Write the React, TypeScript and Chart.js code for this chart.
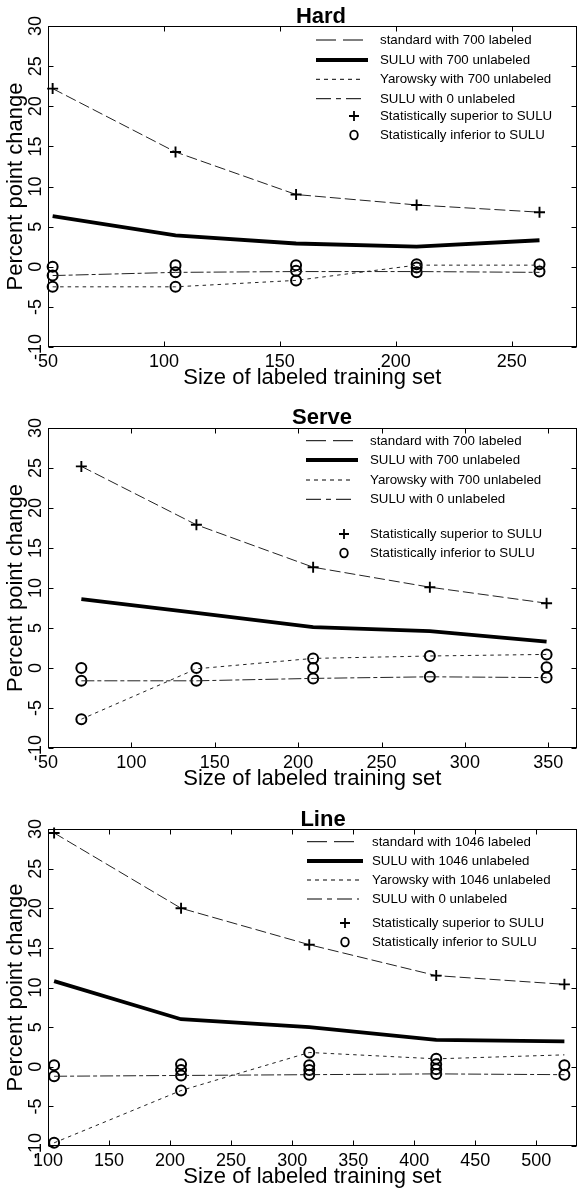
import React, { useEffect, useRef } from 'react';
import { Chart, registerables } from 'chart.js';

Chart.register(...registerables);

const FONT = "'Liberation Sans', Arial, Helvetica, sans-serif";

// ---------- shared axis settings ----------
const xTitle = 'Size of labeled training set';
const yTitle = 'Percent point change';
const yMin = -10;
const yMax = 30;
const yStep = 5;
const xStep = 50;

// ---------- Hard ----------
const hardSizes = [52, 105, 157, 209, 262];
const hardStandard = [22.2, 14.3, 9.0, 7.7, 6.8];
const hardSulu = [6.3, 3.9, 2.9, 2.5, 3.3];
const hardYarowsky = [-2.5, -2.5, -1.7, 0.2, 0.2];
const hardSulu0 = [-1.1, -0.7, -0.6, -0.6, -0.7];
const hardInferior = [
  [0, -1.1, -2.5],
  [0.2, -0.7, -2.5],
  [0.2, -0.5, -1.7],
  [0.3, -0.1, -0.7],
  [0.3, -0.6],
];
const hardLegend = [
  'standard with 700 labeled',
  'SULU with 700 unlabeled',
  'Yarowsky with 700 unlabeled',
  'SULU with 0 unlabeled',
  'Statistically superior to SULU',
  'Statistically inferior to SULU',
];

// ---------- Serve ----------
const serveSizes = [70, 139, 209, 279, 349];
const serveStandard = [25.2, 17.9, 12.6, 10.1, 8.1];
const serveSulu = [8.6, 6.9, 5.1, 4.6, 3.3];
const serveYarowsky = [-6.4, -0.1, 1.2, 1.5, 1.7];
const serveSulu0 = [-1.6, -1.6, -1.3, -1.1, -1.2];
const serveInferior = [
  [0, -1.6, -6.4],
  [0, -1.6],
  [1.2, 0, -1.3],
  [1.5, -1.1],
  [1.7, 0.1, -1.2],
];
const serveLegend = [
  'standard with 700 labeled',
  'SULU with 700 unlabeled',
  'Yarowsky with 700 unlabeled',
  'SULU with 0 unlabeled',
  'Statistically superior to SULU',
  'Statistically inferior to SULU',
];

// ---------- Line ----------
const lineSizes = [105, 209, 314, 418, 523];
const lineStandard = [29.5, 20.0, 15.4, 11.5, 10.4];
const lineSulu = [10.8, 6.0, 5.0, 3.4, 3.2];
const lineYarowsky = [-9.6, -3.0, 1.8, 1.0, 1.5];
const lineSulu0 = [-1.2, -1.1, -1.0, -0.9, -1.0];
const lineInferior = [
  [0.2, -1.2, -9.6],
  [0.3, -0.4, -1.1, -3.0],
  [1.8, 0.2, -0.4, -1.0],
  [1.0, 0.3, -0.3, -0.9],
  [0.2, -1.0],
];
const lineLegend = [
  'standard with 1046 labeled',
  'SULU with 1046 unlabeled',
  'Yarowsky with 1046 unlabeled',
  'SULU with 0 unlabeled',
  'Statistically superior to SULU',
  'Statistically inferior to SULU',
];

// ---------- panel layouts ----------
const panels = [
  {
    title: 'Hard', sizes: hardSizes, standard: hardStandard, sulu: hardSulu,
    yarowsky: hardYarowsky, sulu0: hardSulu0, inferior: hardInferior, legend: hardLegend,
    xMin: 50, xMax: 278,
    top: 0, height: 400, padTop: 26, padBottom: 0,
    titleX: 321, titleY: 16.5,
    legendRows: [40, 60, 79.3, 98.7, 116, 135],
    sampleX: [316, 364], markX: 354, textX: 380,
  },
  {
    title: 'Serve', sizes: serveSizes, standard: serveStandard, sulu: serveSulu,
    yarowsky: serveYarowsky, sulu0: serveSulu0, inferior: serveInferior, legend: serveLegend,
    xMin: 50, xMax: 367,
    top: 401, height: 400, padTop: 27, padBottom: 0,
    titleX: 322, titleY: 17,
    legendRows: [39.7, 59, 79, 98.3, 133, 152],
    sampleX: [306, 354], markX: 344, textX: 370,
  },
  {
    title: 'Line', sizes: lineSizes, standard: lineStandard, sulu: lineSulu,
    yarowsky: lineYarowsky, sulu0: lineSulu0, inferior: lineInferior, legend: lineLegend,
    xMin: 100, xMax: 533,
    top: 802, height: 400, padTop: 27, padBottom: 3,
    titleX: 323, titleY: 18,
    legendRows: [39.7, 59, 78, 97, 121, 140],
    sampleX: [307, 359], markX: 345, textX: 372,
  },
];

type Panel = typeof panels[number];

const DASH_STD = [11, 4];
const DASH_YAR = [3.5, 4];
const DASH_S0 = [13, 3, 4, 3];

function buildConfig(p: Panel): any {
  const pts = (ys: number[]) => p.sizes.map((x, i) => ({ x, y: ys[i] }));
  const inf = p.sizes.flatMap((x, i) => p.inferior[i].map((y) => ({ x, y })));

  const decor = {
    id: 'decor',
    afterDraw(chart: any) {
      const { ctx, chartArea: a, scales } = chart;
      const xs = scales.x;
      const ys = scales.y;
      ctx.save();
      ctx.setLineDash([]);
      ctx.strokeStyle = '#000';
      ctx.lineWidth = 1;
      const L = Math.round(a.left) + 0.5;
      const R = Math.round(a.right) - 0.5;
      const T = Math.round(a.top) + 0.5;
      const B = Math.round(a.bottom) - 0.5;
      ctx.strokeRect(L, T, R - L, B - T);
      ctx.beginPath();
      xs.ticks.forEach((t: any) => {
        const px = Math.round(xs.getPixelForValue(t.value)) + 0.5;
        ctx.moveTo(px, B); ctx.lineTo(px, B - 5);
        ctx.moveTo(px, T); ctx.lineTo(px, T + 5);
      });
      ys.ticks.forEach((t: any) => {
        const py = Math.round(ys.getPixelForValue(t.value)) + 0.5;
        ctx.moveTo(L, py); ctx.lineTo(L + 5, py);
        ctx.moveTo(R, py); ctx.lineTo(R - 5, py);
      });
      ctx.stroke();

      // rotated y tick labels from the library's own y scale
      ctx.fillStyle = '#000';
      ctx.font = `18px ${FONT}`;
      ctx.textAlign = 'center';
      ctx.textBaseline = 'middle';
      ys.ticks.forEach((t: any) => {
        const py = ys.getPixelForValue(t.value);
        ctx.save();
        ctx.translate(36, py);
        ctx.rotate(-Math.PI / 2);
        ctx.fillText(t.label, 0, 0);
        ctx.restore();
      });

      // title
      ctx.font = `bold 22px ${FONT}`;
      ctx.fillText(p.title, p.titleX, p.titleY);

      // legend
      const [s0, s1] = p.sampleX;
      ctx.textAlign = 'left';
      ctx.font = `13.3px ${FONT}`;
      p.legend.forEach((label, i) => {
        const yy = p.legendRows[i];
        ctx.save();
        ctx.strokeStyle = '#000';
        if (i === 0) {
          ctx.lineWidth = 1; ctx.setLineDash([20, 7]);
          ctx.beginPath(); ctx.moveTo(s0, yy); ctx.lineTo(s1 - 1, yy); ctx.stroke();
        } else if (i === 1) {
          ctx.lineWidth = 3.8; ctx.setLineDash([]);
          ctx.beginPath(); ctx.moveTo(s0, yy); ctx.lineTo(s1 + 4, yy); ctx.stroke();
        } else if (i === 2) {
          ctx.lineWidth = 1; ctx.setLineDash([4, 4]);
          ctx.beginPath(); ctx.moveTo(s0, yy); ctx.lineTo(s1, yy); ctx.stroke();
        } else if (i === 3) {
          ctx.lineWidth = 1; ctx.setLineDash([15, 5, 5, 5]);
          ctx.beginPath(); ctx.moveTo(s0, yy); ctx.lineTo(s1, yy); ctx.stroke();
        } else if (i === 4) {
          ctx.lineWidth = 1.8; ctx.setLineDash([]);
          ctx.beginPath();
          ctx.moveTo(p.markX - 5, yy); ctx.lineTo(p.markX + 5, yy);
          ctx.moveTo(p.markX, yy - 5); ctx.lineTo(p.markX, yy + 5);
          ctx.stroke();
        } else {
          ctx.lineWidth = 1.8; ctx.setLineDash([]);
          ctx.beginPath(); ctx.ellipse(p.markX, yy, 3.8, 4.3, 0, 0, Math.PI * 2); ctx.stroke();
        }
        ctx.restore();
        ctx.fillStyle = '#000';
        ctx.fillText(label, p.textX, yy + 0.5);
      });
      ctx.restore();
    },
  };

  return {
    type: 'line',
    data: {
      datasets: [
        {
          label: p.legend[0], data: pts(p.standard), borderColor: '#222', borderWidth: 1,
          borderDash: DASH_STD, pointStyle: 'cross', pointRadius: 5.5, pointBorderWidth: 1.9,
          pointBorderColor: '#000', pointBackgroundColor: '#000', clip: false, tension: 0,
        },
        {
          label: p.legend[1], data: pts(p.sulu), borderColor: '#000', borderWidth: 3.8,
          pointRadius: 0, clip: false, tension: 0,
        },
        {
          label: p.legend[2], data: pts(p.yarowsky), borderColor: '#222', borderWidth: 1,
          borderDash: DASH_YAR, pointRadius: 0, clip: false, tension: 0,
        },
        {
          label: p.legend[3], data: pts(p.sulu0), borderColor: '#222', borderWidth: 1,
          borderDash: DASH_S0, pointRadius: 0, clip: false, tension: 0,
        },
        {
          label: p.legend[5], data: inf, showLine: false, pointStyle: 'circle', pointRadius: 5,
          pointBorderWidth: 2, pointBorderColor: '#000', pointBackgroundColor: 'rgba(0,0,0,0)',
          borderColor: '#000', clip: false,
        },
      ],
    },
    options: {
      animation: false,
      responsive: false,
      events: [],
      layout: { padding: { top: p.padTop, right: 4, bottom: p.padBottom, left: 0 } },
      plugins: { legend: { display: false }, tooltip: { enabled: false }, title: { display: false } },
      scales: {
        x: {
          type: 'linear', min: p.xMin, max: p.xMax,
          ticks: {
            stepSize: xStep, includeBounds: false, autoSkip: false, maxRotation: 0, minRotation: 0,
            font: { family: FONT, size: 18 }, color: '#000', padding: 4,
          },
          grid: { display: false, drawTicks: false },
          border: { display: false },
          title: {
            display: true, text: xTitle, color: '#000',
            font: { family: FONT, size: 22 }, padding: { top: 0, bottom: 9 },
          },
          afterFit: (s: any) => { s.height = 53; },
        },
        y: {
          type: 'linear', min: yMin, max: yMax,
          ticks: { stepSize: yStep, display: false },
          grid: { display: false, drawTicks: false },
          border: { display: false },
          title: {
            display: true, text: yTitle, color: '#000',
            font: { family: FONT, size: 22 }, padding: { top: 3, bottom: 0 },
          },
          afterFit: (s: any) => { s.width = 48; },
        },
      },
    },
    plugins: [decor],
  };
}

function ChartPanel({ panel }: { panel: Panel }) {
  const ref = useRef<HTMLCanvasElement>(null);
  useEffect(() => {
    const chart = new Chart(ref.current as HTMLCanvasElement, buildConfig(panel));
    return () => chart.destroy();
  }, [panel]);
  return (
    <canvas
      ref={ref}
      width={584}
      height={panel.height}
      style={{ position: 'absolute', left: 0, top: panel.top, width: 584, height: panel.height }}
    />
  );
}

export default function App() {
  return (
    <div
      style={{
        position: 'absolute', left: 0, top: 0, width: 584, height: 1193,
        overflow: 'hidden', background: '#fff',
      }}
    >
      {panels.map((p) => (
        <ChartPanel key={p.title} panel={p} />
      ))}
    </div>
  );
}
